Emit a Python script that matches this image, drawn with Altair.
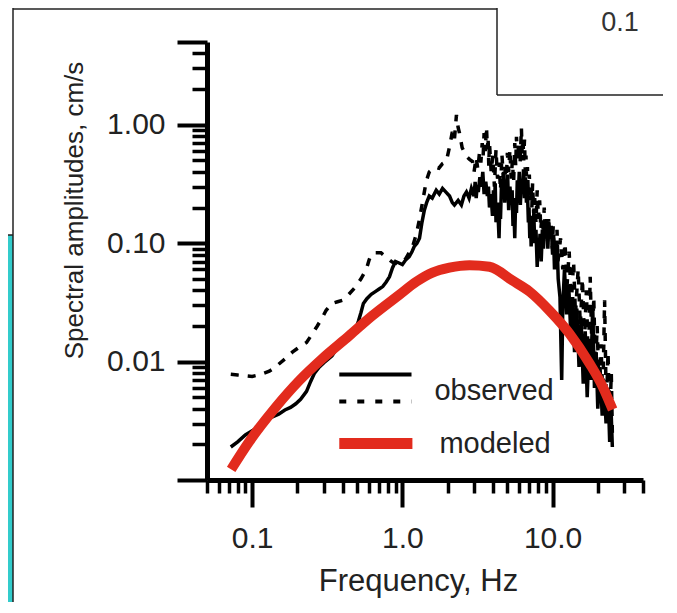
import altair as alt
import pandas as pd

FONT = "Arial, Liberation Sans, sans-serif"
TEXT_COLOR = "#222222"
RED = "#e22b1d"
CYAN = "#33cccc"

# ---------------- data ----------------
# observed spectrum, solid line (low / middle / high frequency parts)
solid_freq_low = [0.072, 0.08, 0.09, 0.10, 0.11, 0.12, 0.135, 0.15, 0.165, 0.18,
                  0.195, 0.21, 0.23, 0.245, 0.26, 0.28, 0.30, 0.32, 0.34, 0.36,
                  0.38, 0.40, 0.43, 0.46, 0.49, 0.51, 0.53, 0.55, 0.58, 0.62,
                  0.66, 0.70, 0.74, 0.78, 0.82, 0.86, 0.90, 0.95, 1.0, 1.05,
                  1.11, 1.16, 1.2, 1.25, 1.3, 1.35, 1.4, 1.45, 1.51, 1.58,
                  1.68, 1.76, 1.85, 1.95, 2.06, 2.15, 2.22, 2.35, 2.47, 2.57,
                  2.67, 2.78, 2.88]
solid_amp_low = [0.0019, 0.0021, 0.0024, 0.0026, 0.0028, 0.0031, 0.0034, 0.0036, 0.0039, 0.0041,
                 0.0044, 0.0048, 0.0056, 0.0068, 0.0080, 0.0090, 0.0098, 0.0105, 0.0112, 0.0125,
                 0.0135, 0.0142, 0.0155, 0.0170, 0.0188, 0.022, 0.026, 0.031, 0.034, 0.037,
                 0.039, 0.041, 0.043, 0.047, 0.052, 0.062, 0.070, 0.068, 0.066, 0.072,
                 0.077, 0.085, 0.094, 0.10, 0.11, 0.15, 0.19, 0.22, 0.25, 0.24,
                 0.28, 0.26, 0.29, 0.27, 0.25, 0.22, 0.21, 0.23, 0.21, 0.25,
                 0.27, 0.24, 0.29]
solid_freq_mid = [3.0, 3.05, 3.1, 3.15, 3.2, 3.28, 3.36, 3.43, 3.5, 3.59,
                  3.68, 3.74, 3.8, 3.89, 3.98, 4.04, 4.1, 4.15, 4.2, 4.3,
                  4.4, 4.45, 4.5, 4.58, 4.65, 4.72, 4.8, 4.88, 4.95, 5.02,
                  5.1, 5.2, 5.3, 5.38, 5.45, 5.52, 5.6, 5.68, 5.75, 5.82,
                  5.9, 6.0, 6.1, 6.2, 6.3, 6.4, 6.5, 6.6, 6.7, 6.8,
                  6.9, 6.97, 7.05, 7.12, 7.2, 7.3, 7.4, 7.5, 7.6, 7.75,
                  7.9, 8.0, 8.1, 8.25, 8.4, 8.55, 8.7, 8.85, 9.0, 9.15,
                  9.3, 9.45, 9.6, 9.8, 10.0, 10.15, 10.3, 10.45, 10.6, 10.75,
                  10.9]
solid_amp_mid = [0.25, 0.33, 0.24, 0.31, 0.27, 0.36, 0.30, 0.40, 0.26, 0.33,
                 0.25, 0.30, 0.20, 0.26, 0.17, 0.28, 0.21, 0.32, 0.15, 0.22,
                 0.11, 0.20, 0.16, 0.35, 0.26, 0.40, 0.22, 0.33, 0.25, 0.38,
                 0.19, 0.30, 0.22, 0.28, 0.14, 0.20, 0.11, 0.24, 0.18, 0.34,
                 0.24, 0.40, 0.21, 0.35, 0.27, 0.42, 0.24, 0.36, 0.22, 0.28,
                 0.15, 0.20, 0.11, 0.16, 0.094, 0.17, 0.12, 0.18, 0.10, 0.13,
                 0.063, 0.10, 0.08, 0.12, 0.07, 0.13, 0.09, 0.15, 0.11, 0.16,
                 0.09, 0.15, 0.11, 0.14, 0.08, 0.11, 0.06, 0.10, 0.07, 0.09,
                 0.05]
solid_freq_high = [11.2, 11.5, 11.7, 12.0, 12.4, 12.8, 13.2, 13.6, 14.0, 14.5,
                   15.0, 15.5, 16.0, 16.5, 17.0, 17.5, 18.0, 18.5, 19.0, 19.5,
                   20.0, 20.7, 21.4, 22.0, 22.7, 23.4, 24.0, 24.5, 25.0]
solid_amp_high = [0.035, 0.007, 0.03, 0.06, 0.025, 0.045, 0.018, 0.035, 0.012, 0.028,
                  0.009, 0.022, 0.0065, 0.018, 0.005, 0.014, 0.007, 0.03, 0.006, 0.012,
                  0.004, 0.009, 0.0035, 0.007, 0.003, 0.006, 0.0021, 0.004, 0.0019]

# observed spectrum, dashed line
dash_freq_low = [0.072, 0.08, 0.09, 0.10, 0.11, 0.12, 0.13, 0.14, 0.15, 0.165,
                 0.185, 0.21, 0.23, 0.25, 0.27, 0.29, 0.31, 0.34, 0.37, 0.40,
                 0.44, 0.49, 0.53, 0.575, 0.60, 0.62, 0.66, 0.72, 0.78, 0.86,
                 0.93, 1.0, 1.06, 1.12, 1.17, 1.24, 1.3, 1.36, 1.42, 1.47,
                 1.51, 1.58, 1.65, 1.75, 1.85, 1.96, 2.06, 2.15, 2.22, 2.29,
                 2.35, 2.4, 2.5, 2.6, 2.67, 2.8]
dash_amp_low = [0.0078, 0.0077, 0.0076, 0.0075, 0.0077, 0.0080, 0.0083, 0.0088, 0.0095, 0.0105,
                0.012, 0.0135, 0.0145, 0.017, 0.0198, 0.023, 0.027, 0.031, 0.032, 0.033,
                0.037, 0.043, 0.050, 0.060, 0.072, 0.080, 0.083, 0.083, 0.076, 0.069,
                0.067, 0.069, 0.075, 0.085, 0.094, 0.12, 0.16, 0.22, 0.30, 0.36,
                0.40, 0.42, 0.44, 0.43, 0.47, 0.49, 0.65, 0.87, 0.75, 1.21,
                0.95, 0.85, 0.64, 0.58, 0.54, 0.51]
dash_freq_mid = [2.93, 3.0, 3.1, 3.18, 3.26, 3.33, 3.4, 3.45, 3.5, 3.56,
                 3.63, 3.68, 3.72, 3.76, 3.8, 3.9, 4.0, 4.1, 4.2, 4.3,
                 4.4, 4.5, 4.6, 4.7, 4.8, 4.9, 5.0, 5.1, 5.2, 5.3,
                 5.4, 5.5, 5.6, 5.68, 5.75, 5.85, 5.95, 6.08, 6.2, 6.28,
                 6.35, 6.42, 6.5, 6.58, 6.65, 6.72, 6.8, 6.9, 7.0, 7.1,
                 7.2, 7.28, 7.36, 7.48, 7.6, 7.75, 7.9, 8.05, 8.2, 8.35,
                 8.5, 8.65, 8.8, 8.95, 9.1, 9.25, 9.4, 9.6, 9.8, 9.95,
                 10.1, 10.25, 10.4, 10.55, 10.7, 10.85, 11.0]
dash_amp_mid = [0.49, 0.40, 0.53, 0.42, 0.58, 0.48, 0.70, 0.55, 0.85, 0.60,
                0.96, 0.62, 0.78, 0.45, 0.70, 0.40, 0.55, 0.30, 0.62, 0.35,
                0.48, 0.28, 0.56, 0.36, 0.45, 0.30, 0.58, 0.40, 0.62, 0.35,
                0.50, 0.32, 0.70, 0.45, 0.79, 0.50, 0.72, 0.48, 0.94, 0.55,
                0.80, 0.50, 0.75, 0.40, 0.55, 0.30, 0.44, 0.25, 0.38, 0.22,
                0.30, 0.20, 0.32, 0.18, 0.24, 0.15, 0.28, 0.16, 0.23, 0.13,
                0.17, 0.12, 0.20, 0.11, 0.14, 0.10, 0.16, 0.10, 0.12, 0.09,
                0.14, 0.09, 0.10, 0.07, 0.13, 0.07, 0.08]
dash_freq_high = [11.3, 11.7, 12.1, 12.5, 12.9, 13.3, 13.8, 14.2, 14.8, 15.3,
                  15.8, 16.3, 16.8, 17.3, 17.8, 18.3, 18.8, 19.3, 19.8, 20.4,
                  21.0, 21.6, 22.2, 22.8, 23.4, 24.0, 24.6, 25.0]
dash_amp_high = [0.11, 0.06, 0.10, 0.045, 0.085, 0.03, 0.07, 0.025, 0.06, 0.02,
                 0.05, 0.015, 0.04, 0.009, 0.052, 0.012, 0.035, 0.008, 0.02, 0.006,
                 0.014, 0.005, 0.033, 0.004, 0.012, 0.003, 0.008, 0.0025]

# modeled spectrum
model_freq = [0.0724, 0.0955, 0.1445, 0.2057, 0.2929, 0.4433, 0.631, 0.955, 1.24, 1.585,
              2.056, 2.797, 3.80, 5.41, 7.03, 9.55, 12.98, 17.65, 21.54, 25.1]
model_amp = [0.00123, 0.00211, 0.00417, 0.00691, 0.0106, 0.01657, 0.02444, 0.0367, 0.0473, 0.0564,
             0.0621, 0.0652, 0.0633, 0.0483, 0.0390, 0.0269, 0.0172, 0.00962, 0.00615, 0.00394]

# axis ticks
x_domain = [0.05, 40]
y_domain = [0.001, 5]
x_major = [0.1, 1, 10]
x_minor = [0.05, 0.06, 0.07, 0.08, 0.09, 0.2, 0.3, 0.4, 0.5, 0.6, 0.7, 0.8, 0.9,
           2, 3, 4, 5, 6, 7, 8, 9, 20, 30, 40]
y_major = [0.001, 0.01, 0.1, 1, 5]
y_minor = [0.002, 0.003, 0.004, 0.005, 0.006, 0.007, 0.008, 0.009,
           0.02, 0.03, 0.04, 0.05, 0.06, 0.07, 0.08, 0.09,
           0.2, 0.3, 0.4, 0.5, 0.6, 0.7, 0.8, 0.9, 2, 3, 4]

# legend (placed in data space)
legend_line_start = [0.38, 0.38, 0.38]
legend_line_end = [1.15, 1.15, 1.166]
legend_line_amp = [0.00777, 0.00460, 0.00203]
legend_labels = ["observed", "modeled"]
legend_label_freq = [1.634, 1.764]
legend_label_amp = [0.00569, 0.00203]

# ---------------- chart ----------------
solid_df = pd.DataFrame({"freq": solid_freq_low + solid_freq_mid + solid_freq_high,
                         "amp": solid_amp_low + solid_amp_mid + solid_amp_high})
dash_df = pd.DataFrame({"freq": dash_freq_low + dash_freq_mid + dash_freq_high,
                        "amp": dash_amp_low + dash_amp_mid + dash_amp_high})
model_df = pd.DataFrame({"freq": model_freq, "amp": model_amp})

xs = alt.Scale(type="log", domain=x_domain, nice=False)
ys = alt.Scale(type="log", domain=y_domain, nice=False)

x_main_axis = alt.Axis(
    values=x_major, format=".1f", orient="bottom", grid=False,
    tickSize=27, tickWidth=4, tickColor="black",
    domainColor="black", domainWidth=5,
    labelFont=FONT, labelFontSize=30, labelColor=TEXT_COLOR, labelPadding=16,
    labelFlush=False, labelOverlap=False,
    title="Frequency, Hz", titleFont=FONT, titleFontSize=31, titleFontWeight="normal",
    titleColor=TEXT_COLOR, titleX=211, titleY=110, titleAlign="center",
    titleBaseline="alphabetic",
)
y_main_axis = alt.Axis(
    values=y_major, orient="left", grid=False,
    labelExpr="datum.value == 0.001 || datum.value == 5 ? '' : format(datum.value, '.2f')",
    tickSize=30, tickWidth=4, tickColor="black",
    domainColor="black", domainWidth=5,
    labelFont=FONT, labelFontSize=30, labelColor=TEXT_COLOR, labelPadding=12,
    labelFlush=False, labelOverlap=False,
    title="Spectral amplitudes, cm/s", titleFont=FONT, titleFontSize=26,
    titleFontWeight="normal", titleColor=TEXT_COLOR,
    titleX=-133, titleY=168, titleAngle=270, titleAlign="center", titleBaseline="middle",
)
x_minor_axis = alt.Axis(values=x_minor, orient="bottom", grid=False, labels=False,
                        domain=False, tickSize=13, tickWidth=3.5, tickColor="black",
                        title=None)
y_minor_axis = alt.Axis(values=y_minor, orient="left", grid=False, labels=False,
                        domain=False, tickSize=15, tickWidth=3.5, tickColor="black",
                        title=None)

dashed = alt.Chart(dash_df).mark_line(color="black", strokeWidth=3.5, strokeDash=[8, 9]).encode(
    x=alt.X("freq:Q", scale=xs, axis=x_main_axis),
    y=alt.Y("amp:Q", scale=ys, axis=y_main_axis),
)
solid = alt.Chart(solid_df).mark_line(color="black", strokeWidth=3.5).encode(
    x=alt.X("freq:Q", scale=xs, axis=x_minor_axis),
    y=alt.Y("amp:Q", scale=ys, axis=y_minor_axis),
)
modeled = alt.Chart(model_df).mark_line(color=RED, strokeWidth=10, interpolate="monotone",
                                        strokeCap="butt").encode(
    x=alt.X("freq:Q", scale=xs, axis=None),
    y=alt.Y("amp:Q", scale=ys, axis=None),
)


def legend_line(i, **style):
    df = pd.DataFrame({"f0": [legend_line_start[i]], "f1": [legend_line_end[i]],
                       "a": [legend_line_amp[i]]})
    return alt.Chart(df).mark_rule(**style).encode(
        x=alt.X("f0:Q", scale=xs, axis=None),
        x2="f1:Q",
        y=alt.Y("a:Q", scale=ys, axis=None),
    )


leg_solid = legend_line(0, color="black", strokeWidth=4)
leg_dash = legend_line(1, color="black", strokeWidth=4, strokeDash=[7, 11])
leg_model = legend_line(2, color=RED, strokeWidth=11)

label_df = pd.DataFrame({"f": legend_label_freq, "a": legend_label_amp, "label": legend_labels})
leg_text = alt.Chart(label_df).mark_text(align="left", baseline="middle", font=FONT,
                                         fontSize=29, color=TEXT_COLOR).encode(
    x=alt.X("f:Q", scale=xs, axis=None),
    y=alt.Y("a:Q", scale=ys, axis=None),
    text="label:N",
)

# backdrop of the screenshot (frame pieces around the plot)
one = pd.DataFrame({"k": [0]})
cyan_strip = alt.Chart(one).mark_rect(color=CYAN).encode(
    x=alt.value(-199), x2=alt.value(-194), y=alt.value(193), y2=alt.value(570))
strip_line = alt.Chart(one).mark_rule(color="#222", strokeWidth=1.5).encode(
    x=alt.value(-199), x2=alt.value(-194), y=alt.value(193))
panel_left = alt.Chart(one).mark_rule(color="#222", strokeWidth=1.5).encode(
    x=alt.value(-194), y=alt.value(-34), y2=alt.value(570))
panel_top = alt.Chart(one).mark_rule(color="#222", strokeWidth=1.5).encode(
    x=alt.value(-194), x2=alt.value(290), y=alt.value(-33))
box_left = alt.Chart(one).mark_rule(color="#222", strokeWidth=1.5).encode(
    x=alt.value(290), y=alt.value(-34), y2=alt.value(53))
box_bottom = alt.Chart(one).mark_rule(color="#222", strokeWidth=1.5).encode(
    x=alt.value(290), x2=alt.value(470), y=alt.value(53))
box_text = alt.Chart(one).mark_text(text="0.1", font=FONT, fontSize=27, color="#333",
                                    align="center", baseline="middle").encode(
    x=alt.value(413), y=alt.value(-19))

chart = alt.layer(
    cyan_strip, strip_line, panel_left, panel_top, box_left, box_bottom, box_text,
    dashed, solid, modeled, leg_solid, leg_dash, leg_model, leg_text,
).resolve_axis(
    x="independent", y="independent"
).properties(
    width=436, height=438,
    autosize=alt.AutoSizeParams(type="none"),
    padding={"left": 199, "top": 34, "right": 20, "bottom": 122},
    background="white",
).configure_view(stroke=None)

chart.save("out.html", embed_options={"renderer": "svg", "actions": False})
